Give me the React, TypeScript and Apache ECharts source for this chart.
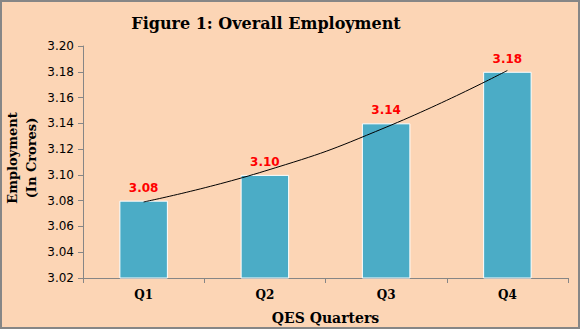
import React, { useEffect, useRef } from "react";
import * as echarts from "echarts";

const categories = ["Q1", "Q2", "Q3", "Q4"];
const employment = [3.08, 3.1, 3.14, 3.18];
const trendValues = [3.079, 3.103, 3.137, 3.181];
const yTicks = { min: 3.02, max: 3.2, interval: 0.02 };
const yAxisTitle = "Employment\n(In Crores)";

export default function App() {
  const ref = useRef<HTMLDivElement>(null);
  useEffect(() => {
    document.body.style.margin = "0";
    const chart = echarts.init(ref.current!, null, { renderer: "svg" });
    chart.setOption({
      animation: false,
      backgroundColor: "#FCD5B5",
      title: {
        text: "Figure 1: Overall Employment",
        left: 261,
        top: 10,
        textAlign: "center",
        textStyle: { fontFamily: "DejaVu Serif", fontWeight: "bold", fontSize: 16, color: "#000" },
      },
      graphic: [
        {
          type: "rect",
          shape: { x: 1, y: 1, width: 578, height: 327 },
          style: { fill: "none", stroke: "#868686", lineWidth: 2 },
          silent: true,
          z: 100,
        },
        {
          type: "text",
          x: 22,
          y: 158,
          rotation: Math.PI / 2,
          style: {
            text: yAxisTitle,
            fontFamily: "DejaVu Serif",
            fontWeight: "bold",
            fontSize: 13,
            lineHeight: 19,
            fill: "#000",
            align: "center",
            verticalAlign: "middle",
          },
          silent: true,
        },
      ],
      grid: { left: 83, top: 46, right: 12, bottom: 51, containLabel: false, outerBoundsMode: "none" },
      xAxis: {
        type: "category",
        data: categories,
        name: "QES Quarters",
        nameLocation: "middle",
        nameGap: 33,
        nameTextStyle: { fontFamily: "DejaVu Serif", fontWeight: "bold", fontSize: 14, color: "#000" },
        axisLine: { lineStyle: { color: "#868686", width: 1 } },
        axisTick: { show: true, length: 5, lineStyle: { color: "#868686" } },
        axisLabel: { fontFamily: "DejaVu Serif", fontWeight: "bold", fontSize: 12, color: "#000", margin: 11 },
      },
      yAxis: {
        type: "value",
        min: yTicks.min,
        max: yTicks.max,
        interval: yTicks.interval,
        axisLine: { show: true, lineStyle: { color: "#868686", width: 1 } },
        axisTick: { show: true, length: 5, lineStyle: { color: "#868686" } },
        splitLine: { show: false },
        axisLabel: {
          fontFamily: "DejaVu Sans",
          fontSize: 12,
          color: "#000",
          margin: 9,
          formatter: (v: number) => v.toFixed(2),
        },
      },
      series: [
        {
          type: "bar",
          data: employment,
          barWidth: "40%",
          itemStyle: { color: "#4BACC6", borderColor: "#ffffff", borderWidth: 1 },
          label: {
            show: true,
            position: "top",
            distance: 7,
            fontFamily: "DejaVu Sans",
            fontWeight: "bold",
            fontSize: 12,
            color: "#FF0000",
            formatter: (p: any) => Number(p.value).toFixed(2),
          },
        },
        {
          type: "line",
          data: trendValues,
          smooth: true,
          symbol: "none",
          lineStyle: { color: "#000", width: 1 },
          z: 5,
        },
      ],
    });
    return () => chart.dispose();
  }, []);
  return <div ref={ref} style={{ width: 580, height: 329 }} />;
}
